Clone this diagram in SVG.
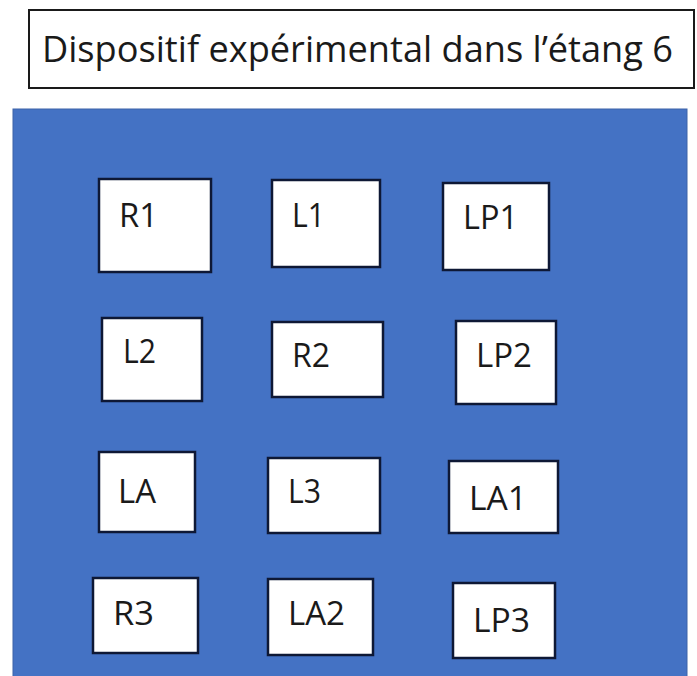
<svg xmlns="http://www.w3.org/2000/svg" width="697" height="676" viewBox="0 0 697 676">
<style>
.bg{fill:#ffffff}
.pond{fill:#4472c4;stroke:#3d63a8;stroke-width:1}
.title{fill:#ffffff;stroke:#1a1a1a;stroke-width:2}
.box{fill:#ffffff;stroke:#0e1835;stroke-width:2.5}
text{font-family:"Open Sans","Noto Sans","Liberation Sans",sans-serif;fill:#1a1a1a}
.t{font-size:36px}
.l{font-size:33px}
</style>
<rect class="bg" x="0" y="0" width="697" height="676"/>
<g id="title">
<rect class="title" x="29" y="10" width="665" height="78"/>
<text class="t" x="42" y="62" textLength="631" lengthAdjust="spacingAndGlyphs">Dispositif expérimental dans l’étang 6</text>
</g>
<g id="pond">
<rect class="pond" x="13" y="109" width="674" height="580"/>
</g>
<g id="connectors"></g>
<g id="R1"><rect class="box" x="99" y="179" width="112" height="93"/><text class="l" x="119" y="227" textLength="39" lengthAdjust="spacingAndGlyphs">R1</text></g>
<g id="L1"><rect class="box" x="272" y="180" width="108" height="87"/><text class="l" x="292" y="227" textLength="33" lengthAdjust="spacingAndGlyphs">L1</text></g>
<g id="LP1"><rect class="box" x="443" y="183" width="106" height="87"/><text class="l" x="463" y="229" textLength="55" lengthAdjust="spacingAndGlyphs">LP1</text></g>
<g id="L2"><rect class="box" x="102" y="318" width="100" height="83"/><text class="l" x="123" y="363" textLength="33" lengthAdjust="spacingAndGlyphs">L2</text></g>
<g id="R2"><rect class="box" x="272" y="322" width="111" height="75"/><text class="l" x="292" y="367" textLength="38" lengthAdjust="spacingAndGlyphs">R2</text></g>
<g id="LP2"><rect class="box" x="456" y="321" width="100" height="83"/><text class="l" x="476" y="367" textLength="56" lengthAdjust="spacingAndGlyphs">LP2</text></g>
<g id="LA"><rect class="box" x="99" y="452" width="96" height="80"/><text class="l" x="118" y="503" textLength="38" lengthAdjust="spacingAndGlyphs">LA</text></g>
<g id="L3"><rect class="box" x="268" y="458" width="112" height="75"/><text class="l" x="288" y="503" textLength="33" lengthAdjust="spacingAndGlyphs">L3</text></g>
<g id="LA1"><rect class="box" x="449" y="461" width="109" height="72"/><text class="l" x="469" y="510" textLength="58" lengthAdjust="spacingAndGlyphs">LA1</text></g>
<g id="R3"><rect class="box" x="93" y="578" width="105" height="75"/><text class="l" x="113" y="625" textLength="41" lengthAdjust="spacingAndGlyphs">R3</text></g>
<g id="LA2"><rect class="box" x="268" y="579" width="105" height="76"/><text class="l" x="288" y="625" textLength="57" lengthAdjust="spacingAndGlyphs">LA2</text></g>
<g id="LP3"><rect class="box" x="453" y="583" width="102" height="75"/><text class="l" x="473" y="632" textLength="57" lengthAdjust="spacingAndGlyphs">LP3</text></g>
</svg>
